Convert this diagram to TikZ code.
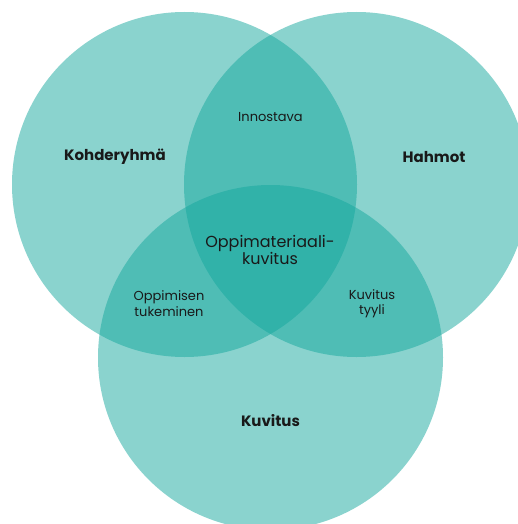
\documentclass[tikz,border=0pt]{standalone}
\usepackage{fontspec}
\setmainfont{Poppins}
\definecolor{venn}{RGB}{21,167,157}
\begin{document}
\begin{tikzpicture}[x=1pt,y=-1pt,
  ring/.style={fill=venn,fill opacity=.5},
  big/.style={text=black!90,font=\fontsize{15}{18}\selectfont\bfseries},
  small/.style={text=black!90,align=center,font=\fontsize{13}{15.5}\selectfont}]
\useasboundingbox (0,0) rectangle (518,524);
\clip (0,0) rectangle (518,524);
% three circles
\fill[ring] (184.5,184.5) circle (172.5);
\fill[ring] (356.5,184.5) circle (172.5);
\fill[ring] (270.5,357.5) circle (172.5);
% labels
\node[big] (kohde) at (115,157) {Kohderyhmä};
\node[big] (hahmot) at (434,157) {Hahmot};
\node[big] (kuvitus) at (270.5,421) {Kuvitus};
\node[small] (innostava) at (270.5,117) {Innostava};
\node[small,font=\fontsize{16}{17}\selectfont] (oppimat) at (270,249.5) {Oppimateriaali-\\kuvitus};
\node[small] (oppimisen) at (169,303.5) {Oppimisen\\tukeminen};
\node[small] (tyyli) at (372,303.5) {Kuvitus\\tyyli};
\end{tikzpicture}
\end{document}
